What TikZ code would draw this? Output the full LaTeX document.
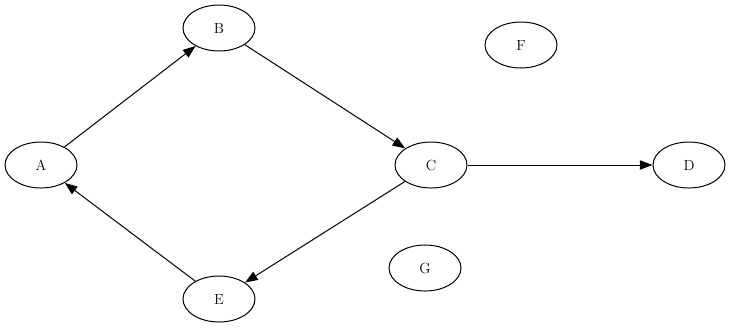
\documentclass[tikz,border=0pt]{standalone}
\usetikzlibrary{arrows.meta,shapes.geometric}
\begin{document}
\begin{tikzpicture}[x=0.75pt,y=-0.75pt,
  nd/.style={ellipse,draw,line width=0.75pt,minimum width=54pt,minimum height=34.5pt,inner sep=0pt,font=\fontsize{11}{13}\selectfont},
  ed/.style={line width=0.75pt,-{Triangle[length=9.5pt,width=7pt]}}]
\useasboundingbox (0,0) rectangle (731,330);
\node[nd] (A) at (41,165) {A};
\node[nd] (B) at (219,28) {B};
\node[nd] (C) at (431,165) {C};
\node[nd] (D) at (689,165) {D};
\node[nd] (E) at (219,299) {E};
\node[nd] (F) at (521,45) {F};
\node[nd] (G) at (425,268) {G};
\draw[ed] (A) -- (B);
\draw[ed] (B) -- (C);
\draw[ed] (C) -- (D);
\draw[ed] (C) -- (E);
\draw[ed] (E) -- (A);
\end{tikzpicture}
\end{document}
